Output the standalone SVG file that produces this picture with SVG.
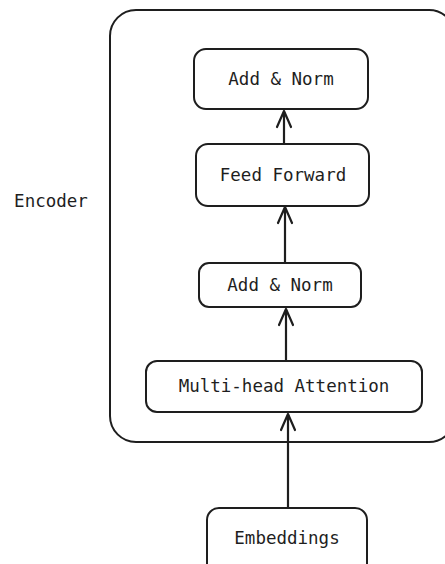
<svg xmlns="http://www.w3.org/2000/svg" width="445" height="564" viewBox="0 0 445 564">
<style>
.box{fill:#fff;stroke:#1e1e1e;stroke-width:2}
.outer{fill:none;stroke:#1e1e1e;stroke-width:2}
.t{font-family:"DejaVu Sans Mono","Liberation Mono",monospace;font-size:17.5px;fill:#1e1e1e;text-anchor:middle;dominant-baseline:central}
.c{fill:none;stroke:#1e1e1e;stroke-width:2.2;stroke-linecap:round;stroke-linejoin:round}
</style>
<rect width="445" height="564" fill="#fff"/>
<g id="encoder">
<rect class="outer" x="110" y="10" width="345" height="432" rx="26"/>
<text class="t" x="51" y="201">Encoder</text>
</g>
<g id="connectors">
<path class="c" d="M284 144 L284 111 M277 127 L284 111 L291 127"/>
<path class="c" d="M285 263 L285 207 M278 223 L285 207 L292 223"/>
<path class="c" d="M286 361 L286 309 M279 325 L286 309 L293 325"/>
<path class="c" d="M288 508 L288 414 M281 430 L288 414 L295 430"/>
</g>
<g id="add-norm-top">
<rect class="box" x="194" y="49" width="174" height="60" rx="12"/>
<text class="t" x="281" y="79">Add &amp; Norm</text>
</g>
<g id="feed-forward">
<rect class="box" x="196" y="144" width="173" height="62" rx="12"/>
<text class="t" x="283" y="175">Feed Forward</text>
</g>
<g id="add-norm-bottom">
<rect class="box" x="199" y="263" width="162" height="44" rx="10"/>
<text class="t" x="280" y="285">Add &amp; Norm</text>
</g>
<g id="multi-head-attention">
<rect class="box" x="146" y="361" width="276" height="51" rx="11"/>
<text class="t" x="284" y="386">Multi-head Attention</text>
</g>
<g id="embeddings">
<rect class="box" x="207" y="508" width="160" height="70" rx="12"/>
<text class="t" x="287" y="538">Embeddings</text>
</g>
</svg>
